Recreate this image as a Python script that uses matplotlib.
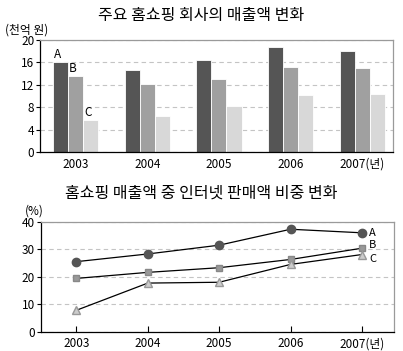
import numpy as np
import matplotlib
matplotlib.use('Agg')
import matplotlib.pyplot as plt

plt.rcParams['font.family'] = ['Noto Sans CJK KR', 'DejaVu Sans']

# -------------------------------------------------------------------------
# data

years = ['2003', '2004', '2005', '2006', '2007(년)']
series = ['A', 'B', 'C']

sales_a = [16.0, 14.6, 16.4, 18.7, 18.0]
sales_b = [13.6, 12.1, 13.0, 15.2, 15.0]
sales_c = [5.7, 6.4, 8.3, 10.1, 10.4]

share_a = [25.5, 28.3, 31.5, 37.3, 36.0]
share_b = [19.4, 21.6, 23.3, 26.3, 30.4]
share_c = [7.8, 17.7, 18.0, 24.5, 28.1]

bar_ticks = [0, 4, 8, 12, 16, 20]
line_ticks = [0, 10, 20, 30, 40]

# -------------------------------------------------------------------------

def style_axes(ax):
    for side in ['left', 'bottom']:
        ax.spines[side].set_color('black')
        ax.spines[side].set_linewidth(0.9)
    for side in ['top', 'right']:
        ax.spines[side].set_color('#9a9a9a')
        ax.spines[side].set_linewidth(0.9)
    ax.tick_params(axis='both', labelsize=8.5, length=3, width=0.8, pad=1)
    ax.set_axisbelow(True)
    ax.yaxis.grid(True, color='#c4c4c4', linestyle=(0, (4, 3)), linewidth=0.8)


fig = plt.figure(figsize=(4.03, 3.51), dpi=100)

# ---- top: bar chart
ax1 = fig.add_axes([0.0993, 0.567, 0.8757, 0.319])
x = np.arange(len(years))
w = 0.21
colors = ['#555555', '#a0a0a0', '#d8d8d8']
for i, (vals, c) in enumerate(zip([sales_a, sales_b, sales_c], colors)):
    ax1.bar(x + (i - 1) * w, vals, width=w, color=c, edgecolor='white', linewidth=0.6)
    ax1.text(x[0] + (i - 1) * w - 0.04, vals[0] + 0.2, series[i], fontsize=8.5,
             ha='center', va='bottom')
ax1.set_xlim(-0.5, 4.43)
ax1.set_ylim(0, 20)
ax1.set_yticks(bar_ticks)
ax1.set_xticks(x)
ax1.set_xticklabels(years)
style_axes(ax1)
ax1.tick_params(axis='x', length=0, pad=4)
fig.text(0.5, 0.955, '주요 홈쇼핑 회사의 매출액 변화', fontsize=11.5, ha='center', va='center')
fig.text(0.012, 0.915, '(천억 원)', fontsize=8.5, ha='left', va='center')

# ---- bottom: line chart
ax2 = fig.add_axes([0.101, 0.055, 0.877, 0.313])
ax2.plot(x, share_a, color='black', linewidth=0.9, marker='o', markersize=6,
         markerfacecolor='#555555', markeredgecolor='#555555')
ax2.plot(x, share_b, color='black', linewidth=0.9, marker='s', markersize=5,
         markerfacecolor='#999999', markeredgecolor='#888888')
ax2.plot(x, share_c, color='black', linewidth=0.9, marker='^', markersize=6,
         markerfacecolor='#cccccc', markeredgecolor='#999999')
for vals, name, dy in zip([share_a, share_b, share_c], series, [0, 1.0, -1.6]):
    ax2.text(x[-1] + 0.1, vals[-1] + dy, name, fontsize=8, ha='left', va='center')
ax2.set_xlim(-0.5, 4.45)
ax2.set_ylim(0, 40)
ax2.set_yticks(line_ticks)
ax2.set_xticks(x)
ax2.set_xticklabels(years)
style_axes(ax2)
ax2.tick_params(axis='x', direction='in', length=4, pad=4)
fig.text(0.5, 0.45, '홈쇼핑 매출액 중 인터넷 판매액 비중 변화', fontsize=11.5, ha='center', va='center')
fig.text(0.062, 0.40, '(%)', fontsize=8.5, ha='left', va='center')

fig.savefig('out.png', dpi=100)
